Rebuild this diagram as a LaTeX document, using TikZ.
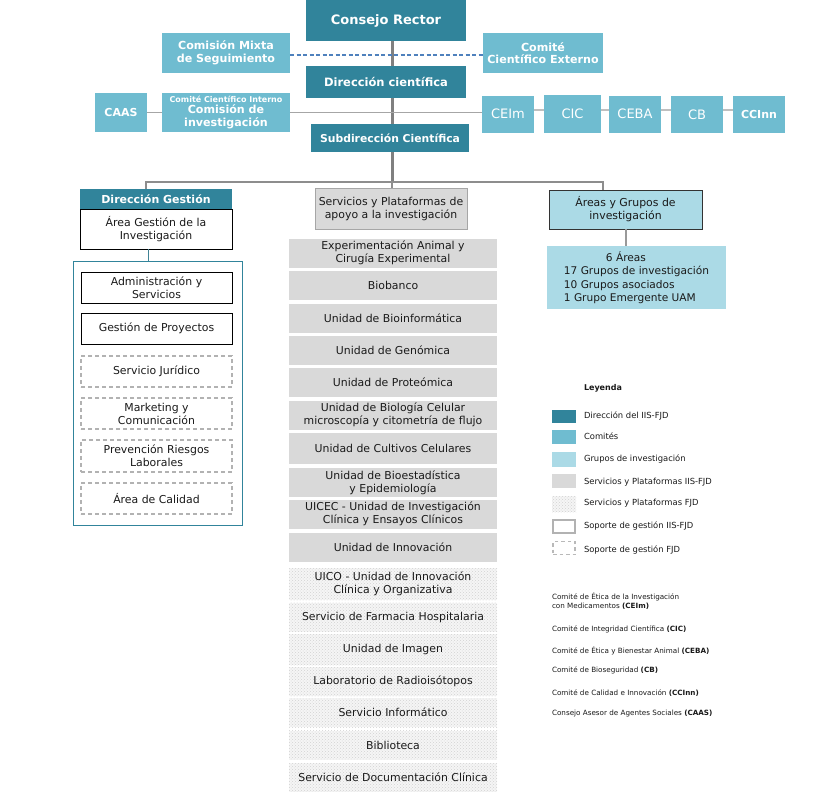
\documentclass[tikz,border=0pt]{standalone}
\usepackage{fontspec}
\setmainfont{DejaVu Sans}
\usetikzlibrary{patterns}
\definecolor{dteal}{HTML}{31849B}
\definecolor{comite}{HTML}{6FBCD0}
\definecolor{grupo}{HTML}{ABDAE6}
\definecolor{servg}{HTML}{D9D9D9}
\definecolor{lineg}{HTML}{808080}
\definecolor{dashb}{HTML}{4F81BD}
\definecolor{txt}{HTML}{1A1A1A}
\begin{document}
\begin{tikzpicture}[x=1pt,y=-1pt,
  every node/.style={inner sep=0pt, outer sep=0pt, align=center, text=txt},
  dirbox/.style={fill=dteal, text=white, font=\bfseries\fontsize{#1}{13}\selectfont},
  dirbox/.default=11,
  combox/.style={fill=comite, text=white, font=\bfseries\fontsize{11.1}{12.5}\selectfont},
  smallcom/.style={fill=comite, text=white, font=\fontsize{13}{14}\selectfont, minimum width=52pt, minimum height=37pt},
  svc/.style={fill=servg, minimum width=208pt, minimum height=29pt, font=\fontsize{10.9}{13}\selectfont},
  fjd/.style={preaction={fill=gray!8}, pattern=crosshatch dots, pattern color=gray!35, minimum width=208pt, minimum height=29pt, font=\fontsize{10.9}{13}\selectfont},
  solbox/.style={draw=black, line width=0.8pt, fill=white, font=\fontsize{10.9}{13}\selectfont},
  dshbox/.style={draw=gray!60, dash pattern=on 4pt off 3pt, line width=1.4pt, fill=white, font=\fontsize{10.9}{13}\selectfont, minimum width=151pt, minimum height=31pt},
  trunk/.style={draw=lineg, line width=3pt},
  bus/.style={draw=lineg!90, line width=2pt},
  thin/.style={draw=gray!70, line width=1.5pt},
  chain/.style={draw=gray!50, line width=2pt},
  leg/.style={anchor=west, font=\fontsize{8.4}{10}\selectfont},
  leg2/.style={anchor=west, align=left, font=\fontsize{7.2}{9}\selectfont},
  sw/.style={minimum width=24pt, minimum height=14pt}
]
\useasboundingbox (0,0) rectangle (819,792);
\fill[white] (0,0) rectangle (819,792);

% helper coordinates
\coordinate (T) at (392,0);
\coordinate (Lx) at (146,0);
\coordinate (Rx) at (603,0);
\coordinate (B) at (0,182);
\coordinate (Row) at (0,110);
\coordinate (Ax) at (148,0);

% top nodes
\node[dirbox=13, minimum width=160pt, minimum height=41pt] (CR) at (386,20.5) {Consejo Rector};
\node[combox, minimum width=128pt, minimum height=40pt] (CMS) at (226,53) {Comisión Mixta\\de Seguimiento};
\node[combox, minimum width=120pt, minimum height=40pt] (CCE) at (543,53) {Comité\\Científico Externo};
\node[dirbox=11.5, minimum width=160pt, minimum height=32pt] (DC) at (386,82) {Dirección científica};
\node[combox, font=\bfseries\fontsize{11}{13}\selectfont, minimum width=52pt, minimum height=39pt] (CAAS) at (121,112.5) {CAAS};
\node[combox, minimum width=128pt, minimum height=39pt] (CI) at (226,112.5) {{\fontsize{8}{9}\selectfont Comité Científico Interno}\\[-1.5pt]Comisión de\\investigación};
\node[smallcom] (CEIm) at (508,114.5) {\raisebox{2pt}{CEIm}};
\node[smallcom, minimum width=57pt, minimum height=38pt] (CIC) at (572.5,114) {\raisebox{-1pt}{CIC}};
\node[smallcom] (CEBA) at (635,114.5) {\raisebox{2pt}{CEBA}};
\node[smallcom] (CB) at (697,114.5) {CB};
\node[smallcom, font=\bfseries\fontsize{11}{13}\selectfont] (CCInn) at (759,114.5) {CCInn};
\node[dirbox=10.8, minimum width=158pt, minimum height=28pt] (SC) at (390,138) {Subdirección Científica};

% top connectors
\draw[trunk] (CR.south -| T) -- (DC.north -| T);
\draw[trunk] (DC.south -| T) -- (SC.north -| T);
\draw[dashb, dashed, dash pattern=on 4pt off 2.5pt, line width=1.5pt] (CMS.east |- 0,55) -- (CCE.west |- 0,55);
\draw[thin] (CAAS.east) -- (CI.west);
\draw[thin] (CI.east) -- (CI.east -| CEIm.west);
\draw[chain] (CEIm.east |- Row) -- (CIC.west |- Row);
\draw[chain] (CIC.east |- Row) -- (CEBA.west |- Row);
\draw[chain] (CEBA.east |- Row) -- (CB.west |- Row);
\draw[chain] (CB.east |- Row) -- (CCInn.west |- Row);

% second level
\node[dirbox=11, minimum width=152pt, minimum height=20pt] (DG) at (156,199) {Dirección Gestión};
\node[solbox, minimum width=152pt, minimum height=40pt] (AGI) at (156,229) {Área Gestión de la\\Investigación};
\node[draw=gray!70, line width=0.8pt, fill=servg, minimum width=152pt, minimum height=41pt, font=\fontsize{10.9}{13}\selectfont] (SP) at (391,208.5) {Servicios y Plataformas de\\apoyo a la investigación};
\node[draw=black!80, line width=0.8pt, fill=grupo, minimum width=153pt, minimum height=39pt, font=\fontsize{10.9}{13}\selectfont] (AG) at (625.5,209.5) {Áreas y Grupos de\\investigación};
\node[fill=grupo, minimum width=179pt, minimum height=63pt, align=left, font=\fontsize{10.6}{13.5}\selectfont] (SA) at (636.5,277.5) {\hspace*{42pt}6 Áreas\\17 Grupos de investigación\\10 Grupos asociados\\1 Grupo Emergente UAM};

\draw[trunk] (SC.south -| T) -- (B -| T);
\draw[bus] (DG.north -| Lx) -- (B -| Lx) -- (B -| Rx) -- (AG.north -| Rx);
\draw[bus] (B -| T) -- (SP.north -| T);
\draw[draw=gray!80, line width=1.5pt] (AG.south -| 626,0) -- (SA.north -| 626,0);

% management container
\node[draw=dteal, line width=0.8pt, minimum width=169pt, minimum height=264pt] (CT) at (157.5,393) {};
\draw[draw=dteal!80!gray, line width=1pt] (AGI.south -| Ax) -- (CT.north -| Ax);
\node[solbox, minimum width=151pt, minimum height=31pt] (ADM) at (156.5,287.5) {Administración y\\Servicios};
\node[solbox, minimum width=151pt, minimum height=31pt] (GPR) at (156.5,328.5) {Gestión de Proyectos};
\node[dshbox] (SJ) at (156.5,371.5) {Servicio Jurídico};
\node[dshbox] (MC) at (156.5,413.5) {Marketing y\\Comunicación};
\node[dshbox, minimum height=32pt] (PRL) at (156.5,456) {Prevención Riesgos\\Laborales};
\node[dshbox] (ACA) at (156.5,498.5) {Área de Calidad};

% services list
\node[svc] (S1) at (393,253) {Experimentación Animal y\\Cirugía Experimental};
\node[svc] (S2) at (393,285) {Biobanco};
\node[svc] (S3) at (393,318) {Unidad de Bioinformática};
\node[svc] (S4) at (393,350) {Unidad de Genómica};
\node[svc] (S5) at (393,382.5) {Unidad de Proteómica};
\node[svc] (S6) at (393,415) {Unidad de Biología Celular\\microscopía y citometría de flujo};
\node[svc, minimum height=31pt] (S7) at (393,448.5) {Unidad de Cultivos Celulares};
\node[svc] (S8) at (393,482.5) {Unidad de Bioestadística\\y Epidemiología};
\node[svc] (S9) at (393,514) {UICEC - Unidad de Investigación\\Clínica y Ensayos Clínicos};
\node[svc] (S10) at (393,547.5) {Unidad de Innovación};
\node[fjd, minimum height=32pt] (S11) at (393,584) {UICO - Unidad de Innovación\\Clínica y Organizativa};
\node[fjd] (S12) at (393,617) {Servicio de Farmacia Hospitalaria};
\node[fjd, minimum height=31pt] (S13) at (393,649.5) {Unidad de Imagen};
\node[fjd] (S14) at (393,681.5) {Laboratorio de Radioisótopos};
\node[fjd] (S15) at (393,712.5) {Servicio Informático};
\node[fjd] (S16) at (393,745) {Biblioteca};
\node[fjd] (S17) at (393,777.5) {Servicio de Documentación Clínica};

% legend
\node[leg, font=\bfseries\fontsize{8}{9}\selectfont] (LT) at (584,388) {Leyenda};
\node[sw, fill=dteal, minimum height=13pt] (L1) at (564,416.5) {};
\node[leg] at (584,416) {Dirección del IIS-FJD};
\node[sw, fill=comite] (L2) at (564,437) {};
\node[leg] at (584,436) {Comités};
\node[sw, fill=grupo, minimum height=15pt] (L3) at (564,459.5) {};
\node[leg] at (584,459) {Grupos de investigación};
\node[sw, fill=servg] (L4) at (564,481) {};
\node[leg] at (584,482) {Servicios y Plataformas IIS-FJD};
\node[sw, preaction={fill=gray!8}, pattern=crosshatch dots, pattern color=gray!35, minimum height=16pt] (L5) at (564,504) {};
\node[leg] at (584,503) {Servicios y Plataformas FJD};
\node[sw, draw=gray!60, line width=2.2pt, minimum width=22pt, minimum height=13pt] (L6) at (564,526.5) {};
\node[leg] at (584,526) {Soporte de gestión IIS-FJD};
\node[sw, draw=gray!55, dash pattern=on 3.5pt off 3pt, line width=1.5pt, minimum width=22pt, minimum height=13pt] (L7) at (564,548) {};
\node[leg] at (584,550) {Soporte de gestión FJD};

\node[leg2] (N1) at (552,601) {Comité de Ética de la Investigación\\con Medicamentos \textbf{(CEIm)}};
\node[leg2] (N2) at (552,629) {Comité de Integridad Científica \textbf{(CIC)}};
\node[leg2] (N3) at (552,651) {Comité de Ética y Bienestar Animal \textbf{(CEBA)}};
\node[leg2] (N4) at (552,670) {Comité de Bioseguridad \textbf{(CB)}};
\node[leg2] (N5) at (552,693) {Comité de Calidad e Innovación \textbf{(CCInn)}};
\node[leg2] (N6) at (552,714) {Consejo Asesor de Agentes Sociales \textbf{(CAAS)}};
\end{tikzpicture}
\end{document}
